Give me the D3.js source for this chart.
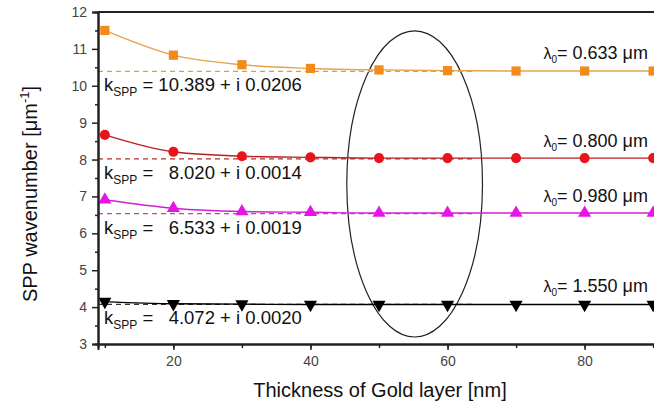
<!doctype html>
<html>
<head>
    <title>SPP wavenumber</title>
    <script src="https://cdnjs.cloudflare.com/ajax/libs/d3/7.8.5/d3.min.js"></script>
    <style>
        body { margin: 0; background: #fff; }
        svg { font-family: "Liberation Sans", Arial, sans-serif; }
    </style>
</head>
<body>
    <svg width="654" height="408"></svg>
    <script>
        // thickness of gold layer [nm]
        var thickness = [10, 20, 30, 40, 50, 60, 70, 80, 90];

        // SPP wavenumber per wavelength
        var k633 = [11.50, 10.83, 10.57, 10.47, 10.43, 10.41, 10.40, 10.40, 10.40];
        var k800 = [8.67, 8.21, 8.09, 8.06, 8.04, 8.04, 8.04, 8.04, 8.04];
        var k980 = [6.91, 6.68, 6.59, 6.57, 6.55, 6.55, 6.55, 6.55, 6.55];
        var k1550 = [4.15, 4.09, 4.08, 4.07, 4.07, 4.07, 4.07, 4.07, 4.07];

        var wavelengths = ["0.633", "0.800", "0.980", "1.550"];
        var kReal = [10.389, 8.020, 6.533, 4.072];
        var kImag = ["0.0206", "0.0014", "0.0019", "0.0020"];
        var kRealText = ["10.389", "  8.020", "  6.533", "  4.072"];

        var xTicks = [10, 20, 30, 40, 50, 60, 70, 80, 90];
        var xLabels = [20, 40, 60, 80];
        var yTicks = [3, 4, 5, 6, 7, 8, 9, 10, 11, 12];

        var series = [
            { values: k633, marker: "#f28a1c", line: "#e3a64a", dash: "#d9a040", shape: d3.symbolSquare, size: 85, flip: false },
            { values: k800, marker: "#e8141c", line: "#b82020", dash: "#b03030", shape: d3.symbolCircle, size: 80, flip: false },
            { values: k980, marker: "#e615e6", line: "#d020d0", dash: "#c040c0", shape: d3.symbolTriangle, size: 75, flip: false },
            { values: k1550, marker: "#000000", line: "#000000", dash: "#333333", shape: d3.symbolTriangle, size: 75, flip: true }
        ];

        var svg = d3.select("svg");
        var x = d3.scaleLinear().domain([9, 91]).range([98, 660]);
        var y = d3.scaleLinear().domain([3, 12]).range([344, 12]);

        // top frame line
        svg.append("line")
            .attr("x1", x(9)).attr("x2", 654)
            .attr("y1", y(12)).attr("y2", y(12))
            .attr("stroke", "#222").attr("stroke-width", 2);

        // ellipse marking the converged region
        svg.append("ellipse")
            .attr("cx", x(55.2)).attr("cy", y(7.34))
            .attr("rx", x(55.2) - x(45.3)).attr("ry", y(3.19) - y(7.34))
            .attr("fill", "none").attr("stroke", "#222").attr("stroke-width", 1.2);

        var line = d3.line()
            .x(function (d, i) { return x(thickness[i]); })
            .y(function (d) { return y(d); })
            .curve(d3.curveMonotoneX);

        series.forEach(function (s, k) {
            // asymptote
            svg.append("line")
                .attr("x1", x(9)).attr("x2", x(64))
                .attr("y1", y(kReal[k])).attr("y2", y(kReal[k]))
                .attr("stroke", s.dash).attr("stroke-width", 1.2)
                .attr("stroke-dasharray", "5,4");

            svg.append("path")
                .datum(s.values)
                .attr("d", line)
                .attr("fill", "none")
                .attr("stroke", s.line)
                .attr("stroke-width", 1.4);

            svg.selectAll(".m" + k)
                .data(s.values)
                .enter().append("path")
                .attr("class", "m" + k)
                .attr("d", d3.symbol().type(s.shape).size(s.size))
                .attr("transform", function (d, i) {
                    return "translate(" + x(thickness[i]) + "," + y(d) + ")" + (s.flip ? " rotate(180)" : "");
                })
                .attr("fill", s.marker);

            // k_SPP label
            var kt = svg.append("text")
                .attr("x", 104)
                .attr("y", y(kReal[k]) + 20)
                .attr("font-size", 18.5)
                .attr("fill", "#111")
                .attr("xml:space", "preserve");
            kt.append("tspan").text("k");
            kt.append("tspan").attr("font-size", 12).attr("dy", 5).text("SPP");
            kt.append("tspan").attr("dy", -5).text(" = " + kRealText[k] + " + i " + kImag[k]);

            // wavelength label
            var lt = svg.append("text")
                .attr("x", 648)
                .attr("y", y(kReal[k]) - 12)
                .attr("text-anchor", "end")
                .attr("font-size", 18)
                .attr("fill", "#111");
            lt.append("tspan").attr("font-size", 16).text("λ");
            lt.append("tspan").attr("font-size", 10).attr("dy", 4).text("0");
            lt.append("tspan").attr("dy", -4).text("= " + wavelengths[k] + " μm");
        });

        // axes
        svg.append("g")
            .attr("transform", "translate(" + x(9) + ",0)")
            .call(d3.axisLeft(y).tickValues(yTicks).tickSize(6).tickPadding(5));
        svg.append("g")
            .attr("transform", "translate(" + x(9) + ",0)")
            .call(d3.axisLeft(y).tickValues(d3.range(3.5, 12, 1)).tickSize(3).tickFormat(""));
        svg.append("g")
            .attr("transform", "translate(0," + y(3) + ")")
            .call(d3.axisBottom(x).tickValues(xTicks).tickSize(4).tickFormat(""));
        svg.append("g")
            .attr("transform", "translate(0," + y(3) + ")")
            .call(d3.axisBottom(x).tickValues(xLabels).tickSize(6).tickPadding(6));

        svg.selectAll(".domain").attr("stroke", "#222").attr("stroke-width", 2);
        svg.selectAll(".tick line").attr("stroke", "#222").attr("stroke-width", 1.5);
        svg.selectAll(".tick text").attr("font-size", 14).attr("fill", "#444")
            .attr("font-family", "Liberation Sans, Arial, sans-serif");

        // axis titles
        svg.append("text")
            .attr("x", 380).attr("y", 397)
            .attr("text-anchor", "middle")
            .attr("font-size", 20).attr("fill", "#111")
            .text("Thickness of Gold layer [nm]");

        var yt = svg.append("text")
            .attr("transform", "translate(37,194) rotate(-90)")
            .attr("text-anchor", "middle")
            .attr("font-size", 20).attr("fill", "#111");
        yt.append("tspan").text("SPP wavenumber [μm");
        yt.append("tspan").attr("font-size", 13).attr("dy", -8).text("-1");
        yt.append("tspan").attr("dy", 8).text("]");
    </script>
</body>
</html>
